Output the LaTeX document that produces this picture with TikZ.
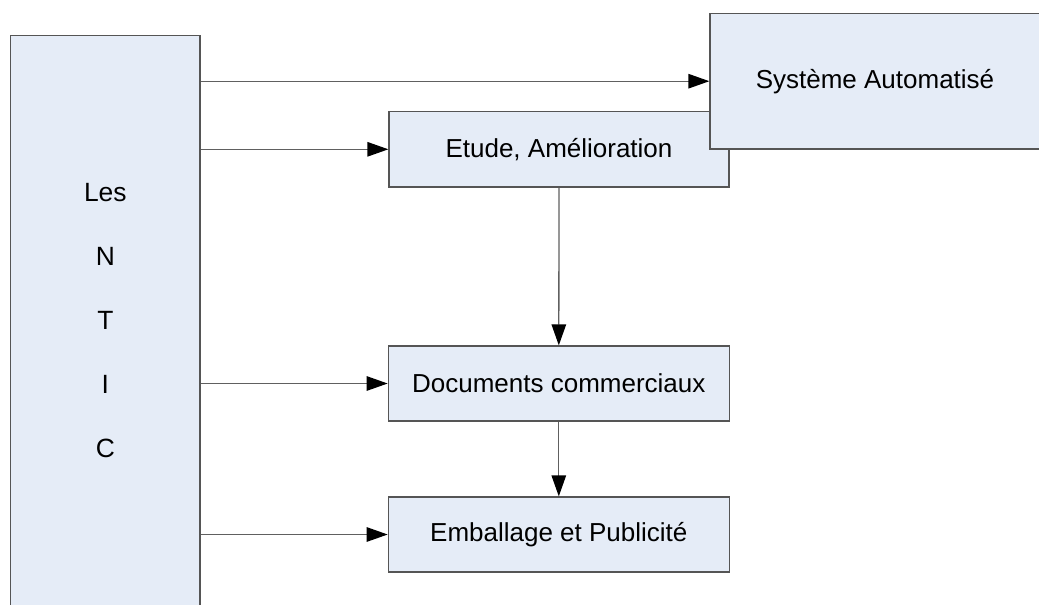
\documentclass[tikz,border=0pt]{standalone}
\usepackage{fontspec}
\setmainfont{Liberation Sans}
\usetikzlibrary{arrows.meta}
\definecolor{boxfill}{RGB}{229,236,247}
\definecolor{boxline}{RGB}{85,85,85}
\definecolor{wire}{RGB}{96,96,96}
\tikzset{
  block/.style={draw=boxline, line width=1.3pt, fill=boxfill, rectangle,
    inner sep=0pt, font=\fontsize{26}{31}\selectfont},
  link/.style={draw=wire, line width=1.3pt,
    -{Triangle[length=21pt,width=14.5pt,fill=black,color=black]}}
}
\begin{document}
\begin{tikzpicture}[x=1pt,y=-1pt]
\useasboundingbox (0,0) rectangle (1039,605);
\clip (0,0) rectangle (1039,605);
% source column
\node[block, minimum width=189.3pt, minimum height=570.5pt, align=center,
  font=\fontsize{26.4}{64}\selectfont] (ntic) at (105.35,320.9)
  {Les\\N\\T\\I\\C};
% targets
\node[block, minimum width=340pt, minimum height=75.3pt] (etude) at (559,149.3)
  {Etude, Amélioration};
\node[block, minimum width=330pt, minimum height=135.7pt] (sys) at (875,81.2)
  {Système Automatisé};
\node[block, minimum width=341pt, minimum height=75pt] (docs) at (558.8,383.5)
  {Documents commerciaux};
\node[block, minimum width=341pt, minimum height=75pt] (emb) at (558.8,534.5)
  {Emballage et Publicité};
% connectors
\draw[link] (ntic.east |- sys.west) -- (sys.west);
\draw[link] (ntic.east |- etude.west) -- (etude.west);
\draw[link] (ntic.east |- docs.west) -- (docs.west);
\draw[link] (ntic.east |- emb.west) -- (emb.west);
\draw[link] (etude.south) -- (docs.north);
\draw[link] (docs.south) -- (emb.north);
\end{tikzpicture}
\end{document}
